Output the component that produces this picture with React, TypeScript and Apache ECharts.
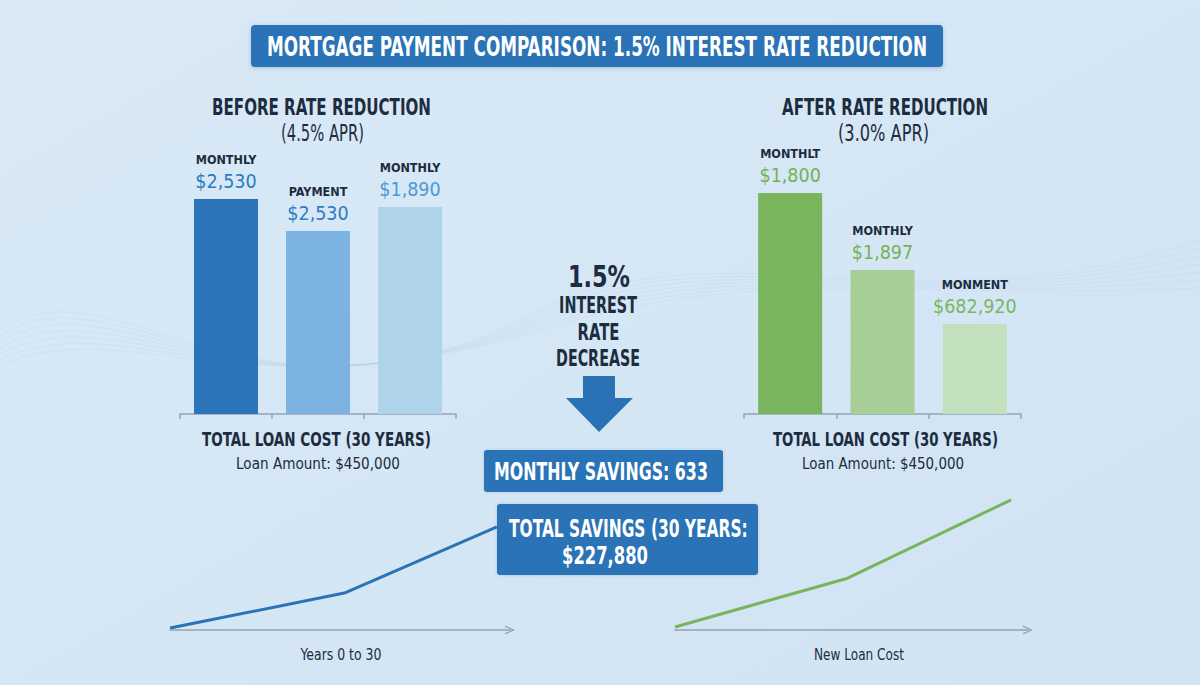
import React, { useEffect, useRef } from 'react';
import * as echarts from 'echarts';

// ---- data ----
const beforeCategories = ['MONTHLY', 'PAYMENT', 'MONTHLY'];
const beforeBarHeights = [81.4, 69.3, 78.4]; // relative bar height (index, 0-100)
const beforeValueLabels = ['$2,530', '$2,530', '$1,890'];

const afterCategories = ['MONTHLT', 'MONTHLY', 'MONMENT'];
const afterBarHeights = [83.7, 54.5, 34.1]; // relative bar height (index, 0-100)
const afterValueLabels = ['$1,800', '$1,897', '$682,920'];

const savingsYears = [0, 16, 30];
const savingsTrend = [1.4, 26.4, 73.6]; // relative level (index, 0-100)
const newCostYears = [0, 15.4, 30];
const newCostTrend = [2.1, 37, 93]; // relative level (index, 0-100)

const titleText = 'MORTGAGE PAYMENT COMPARISON: 1.5% INTEREST RATE REDUCTION';
const monthlySavingsText = 'MONTHLY SAVINGS: 633';
const totalSavingsLine1 = 'TOTAL SAVINGS (30 YEARS:';
const totalSavingsLine2 = '$227,880';

// ---- styling ----
const FONT = "'Liberation Sans Narrow', 'DejaVu Sans Condensed', 'Arial Narrow', Roboto, sans-serif";
const INK = '#1d2c3e';
const BLUE = '#2b73b7';
const GREEN = '#79b55c';
const AXIS_GREY = '#95a3b2';
const beforeColors = ['#2b74b8', '#7db3e0', '#aed3ea'];
const beforeLabelColors = ['#2b7bc4', '#2f7cc4', '#4f99d6'];
const afterColors = ['#79b55c', '#a8ce98', '#c2dfbe'];
const afterLabelColors = ['#74b257', '#74b257', '#7ab760'];

const measureCanvas = typeof document !== 'undefined' ? document.createElement('canvas') : null;
function textWidth(text: string, size: number, weight: string) {
  const ctx = measureCanvas && measureCanvas.getContext('2d');
  if (!ctx) return text.length * size * 0.45;
  ctx.font = `${weight} ${size}px ${FONT}`;
  return ctx.measureText(text).width;
}

// text element squeezed horizontally to a given width
function fitText(
  text: string,
  x: number,
  y: number,
  size: number,
  width: number,
  opts: { weight?: string; color?: string; align?: string; z?: number } = {}
) {
  const weight = opts.weight || 'bold';
  const w = textWidth(text, size, weight);
  const s = Math.min(1.15, width / w);
  const align = opts.align || 'center';
  return {
    type: 'text',
    x,
    y,
    scaleX: s,
    z: opts.z ?? 20,
    style: {
      text,
      fontSize: size,
      fontFamily: FONT,
      fontWeight: weight,
      fill: opts.color || INK,
      align,
      verticalAlign: 'middle',
      textAlign: align,
      textVerticalAlign: 'middle',
    },
  };
}

function barSeries(
  cats: string[],
  heights: number[],
  valueLabels: string[],
  colors: string[],
  labelColors: string[],
  idx: number
) {
  return {
    type: 'bar',
    xAxisIndex: idx,
    yAxisIndex: idx,
    barWidth: 64,
    data: heights.map((v, i) => ({
      value: v,
      itemStyle: { color: colors[i] },
      label: {
        rich: {
          t: { fontFamily: FONT, fontSize: 12.5, fontWeight: 'bold', color: INK, lineHeight: 19, align: 'center' },
          v: { fontFamily: FONT, fontSize: 19.5, color: labelColors[i], lineHeight: 25, align: 'center' },
        },
      },
    })),
    label: {
      show: true,
      position: 'top',
      distance: 5,
      formatter: (p: any) => `{t|${cats[p.dataIndex]}}\n{v|${valueLabels[p.dataIndex]}}`,
    },
  };
}

const chevron = 'path://M0,10 L4.5,0 L9,10 L7.6,10 L4.5,3 L1.4,10 Z';

function trendAxis(idx: number, max: number) {
  return {
    type: 'value',
    gridIndex: idx,
    min: 0,
    max,
    axisLine: {
      show: true,
      symbol: ['none', chevron],
      symbolSize: [9, 11],
      lineStyle: { color: AXIS_GREY, width: 1.5 },
    },
    axisTick: { show: false },
    axisLabel: { show: false },
    splitLine: { show: false },
  };
}

function hiddenY(idx: number) {
  return {
    type: 'value',
    gridIndex: idx,
    min: 0,
    max: 100,
    show: false,
    splitLine: { show: false },
  };
}

function catAxis(idx: number, cats: string[]) {
  return {
    type: 'category',
    gridIndex: idx,
    data: cats,
    axisLine: { show: true, lineStyle: { color: AXIS_GREY, width: 1.5 } },
    axisTick: { show: true, length: 5, lineStyle: { color: AXIS_GREY, width: 1.5 } },
    axisLabel: { show: false },
  };
}

function wave(x1: number, y1: number, c1x: number, c1y: number, c2x: number, c2y: number, x2: number, y2: number, a: number) {
  return {
    type: 'bezierCurve',
    z: -5,
    silent: true,
    shape: { x1, y1, cpx1: c1x, cpy1: c1y, cpx2: c2x, cpy2: c2y, x2, y2 },
    style: { stroke: `rgba(150,185,215,${a})`, lineWidth: 1, fill: null },
  };
}

export default function App() {
  const ref = useRef<HTMLDivElement>(null);

  useEffect(() => {
    document.body.style.margin = '0';
    const chart = echarts.init(ref.current!, null, { renderer: 'svg' });

    // faint decorative ribbons in the background
    const waves: any[] = [];
    for (let i = 0; i < 7; i++) {
      waves.push(wave(0, 330 + i * 6, 120, 250 + i * 10, 260, 470 - i * 8, 560, 300 + i * 4, 0.13));
      waves.push(wave(560, 300 + i * 4, 760, 230 + i * 6, 920, 330 - i * 5, 1200, 240 + i * 8, 0.13));
    }

    const option: any = {
      animation: false,
      backgroundColor: new echarts.graphic.LinearGradient(0, 0, 1, 1, [
        { offset: 0, color: '#d9e9f6' },
        { offset: 1, color: '#d1e4f4' },
      ]),
      grid: [
        { left: 180, top: 150, width: 276, height: 264 },
        { left: 744, top: 150, width: 277, height: 264 },
        { left: 170, top: 490, width: 340, height: 140 },
        { left: 675, top: 490, width: 353, height: 140 },
      ],
      xAxis: [
        catAxis(0, beforeCategories),
        catAxis(1, afterCategories),
        trendAxis(2, 31.2),
        trendAxis(3, 31.5),
      ],
      yAxis: [hiddenY(0), hiddenY(1), hiddenY(2), hiddenY(3)],
      series: [
        barSeries(beforeCategories, beforeBarHeights, beforeValueLabels, beforeColors, beforeLabelColors, 0),
        barSeries(afterCategories, afterBarHeights, afterValueLabels, afterColors, afterLabelColors, 1),
        {
          type: 'line',
          xAxisIndex: 2,
          yAxisIndex: 2,
          showSymbol: false,
          lineStyle: { color: BLUE, width: 3 },
          data: savingsYears.map((y, i) => [y, savingsTrend[i]]),
        },
        {
          type: 'line',
          xAxisIndex: 3,
          yAxisIndex: 3,
          showSymbol: false,
          lineStyle: { color: GREEN, width: 3 },
          data: newCostYears.map((y, i) => [y, newCostTrend[i]]),
        },
      ],
      graphic: [
        ...waves,
        // title banner
        {
          type: 'rect',
          z: 10,
          shape: { x: 251, y: 25, width: 692, height: 42, r: 4 },
          style: { fill: BLUE, shadowBlur: 4, shadowColor: 'rgba(30,70,120,0.25)', shadowOffsetY: 1 },
        },
        fitText(titleText, 597, 46.5, 27, 661, { color: '#ffffff' }),

        // panel headings
        fitText('BEFORE RATE REDUCTION', 321.5, 107, 23, 219),
        fitText('(4.5% APR)', 322.5, 133, 23, 83, { weight: 'normal' }),
        fitText('AFTER RATE REDUCTION', 885, 107, 23, 206),
        fitText('(3.0% APR)', 883.5, 133, 23, 91, { weight: 'normal' }),

        fitText('TOTAL LOAN COST (30 YEARS)', 316.5, 439, 20, 229),
        fitText('Loan Amount: $450,000', 318, 464, 16, 164, { weight: 'normal' }),
        fitText('TOTAL LOAN COST (30 YEARS)', 885.5, 439, 20, 225),
        fitText('Loan Amount: $450,000', 883, 464, 16, 162, { weight: 'normal' }),

        // centre callout
        fitText('1.5%', 599, 276, 30, 62),
        fitText('INTEREST', 598, 305.5, 23, 78),
        fitText('RATE', 598.5, 331.5, 23, 42),
        fitText('DECREASE', 598, 358.5, 23, 84),
        {
          type: 'polygon',
          z: 10,
          shape: {
            points: [
              [583, 376], [615, 376], [615, 398], [633, 398], [599, 432], [566, 398], [583, 398],
            ],
          },
          style: { fill: '#2a72b6' },
        },

        // savings boxes
        {
          type: 'rect',
          z: 30,
          shape: { x: 484, y: 450, width: 239, height: 42, r: 3 },
          style: { fill: BLUE, shadowBlur: 3, shadowColor: 'rgba(30,70,120,0.2)' },
        },
        fitText(monthlySavingsText, 494, 471.5, 25, 214, { color: '#ffffff', align: 'left', z: 31 }),
        {
          type: 'rect',
          z: 30,
          shape: { x: 497, y: 504, width: 261, height: 71, r: 3 },
          style: { fill: BLUE, shadowBlur: 3, shadowColor: 'rgba(30,70,120,0.2)' },
        },
        fitText(totalSavingsLine1, 509, 528, 25, 239, { color: '#ffffff', align: 'left', z: 31 }),
        fitText(totalSavingsLine2, 562, 555, 25, 86, { color: '#ffffff', align: 'left', z: 31 }),

        // trend captions
        fitText('Years 0 to 30', 341, 655, 15, 81, { weight: 'normal' }),
        fitText('New Loan Cost', 859, 655, 15, 90, { weight: 'normal' }),
      ],
    };

    chart.setOption(option);
    return () => chart.dispose();
  }, []);

  return <div ref={ref} style={{ width: 1200, height: 685 }} />;
}
